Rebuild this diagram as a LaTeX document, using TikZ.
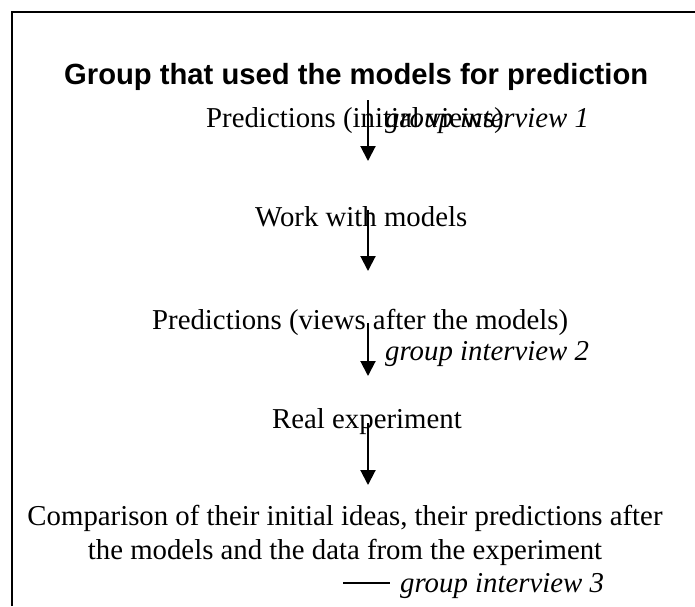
\documentclass[tikz,border=0pt]{standalone}
\usepackage{fontspec}
\setmainfont{Liberation Serif}
\newfontfamily\titlefont{Liberation Sans}
\usetikzlibrary{arrows.meta}
\begin{document}
\begin{tikzpicture}[x=1pt,y=-1pt,
  txt/.style={inner sep=0pt,font=\fontsize{28.8}{34}\selectfont},
  itx/.style={txt,font=\fontsize{28.8}{34}\selectfont\itshape},
  flow/.style={line width=2pt,-{Triangle[length=15pt,width=15pt]}},
  frame/.style={line width=2.6pt}]
\useasboundingbox (0,0) rectangle (695,606);
\draw[frame] (12,606) -- (12,12) -- (695,12);
\node[txt,anchor=base west,font=\titlefont\bfseries\fontsize{29.2}{34}\selectfont] (title) at (64,84) {Group that used the models for prediction};
\node[txt,anchor=base west] (p1) at (206,127) {Predictions (initial views)};
\node[itx,anchor=base west] (g1) at (385,127) {group interview 1};
\node[txt,anchor=base west] (w) at (255,226) {Work with models};
\node[txt,anchor=base west] (p2) at (152,329) {Predictions (views after the models)};
\node[itx,anchor=base west] (g2) at (385,360) {group interview 2};
\node[txt,anchor=base west] (r) at (272,428) {Real experiment};
\node[txt,anchor=base] (c1) at (345,525) {Comparison of their initial ideas, their predictions after};
\node[txt,anchor=base] (c2) at (345,559) {the models and the data from the experiment};
\node[itx,anchor=base west] (g3) at (400,592) {group interview 3};
\coordinate (a1s) at (368,100); \coordinate (a1e) at (368,161);
\coordinate (a2s) at (368,210); \coordinate (a2e) at (368,271);
\coordinate (a3s) at (368,323); \coordinate (a3e) at (368,376);
\coordinate (a4s) at (368,423); \coordinate (a4e) at (368,485);
\coordinate (l3) at (343,583);
\draw[flow] (a1s) -- (a1e);
\draw[flow] (a2s) -- (a2e);
\draw[flow] (a3s) -- (a3e);
\draw[flow] (a4s) -- (a4e);
\draw[line width=2.6pt] (l3) -- ([xshift=-10pt]g3.west |- l3);
\end{tikzpicture}
\end{document}
